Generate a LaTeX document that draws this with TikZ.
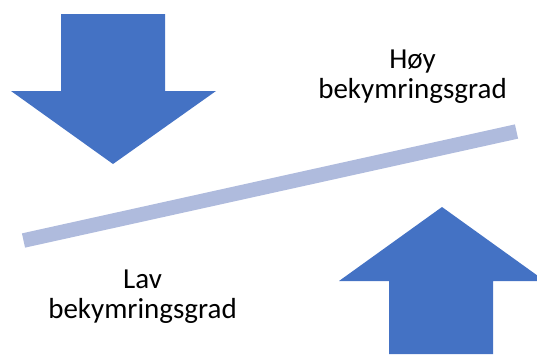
\documentclass[tikz,border=0pt]{standalone}
\usepackage{fontspec}
\setmainfont{Carlito}
\definecolor{arrowblue}{HTML}{4472C4}
\definecolor{barblue}{HTML}{AFBBDD}
\tikzset{
  bigarrow/.style={fill=arrowblue, draw=none},
  levelbar/.style={draw=barblue, line width=14.6pt},
  gradlabel/.style={align=center, anchor=base, inner sep=0pt,
    font=\fontsize{29}{29.5}\selectfont},
}

\begin{document}
\begin{tikzpicture}[x=1pt,y=-1pt]
    \useasboundingbox (0,0) rectangle (537,354);
    % pressure from above and below
    \fill[bigarrow] (61,14) -- (165,14) -- (165,91) -- (216,91) -- (113,164)
        -- (11,91) -- (61,91) -- cycle;
    \fill[bigarrow] (389,354) -- (389,281) -- (339,281) -- (442,207)
        -- (545,281) -- (493,281) -- (493,354) -- cycle;
    % the slanted scale
    \coordinate (B0) at (23.5,240.5);
    \coordinate (B1) at (516.5,131.5);
    \draw[levelbar] (B0) -- (B1);
    % base is the second line here
    \node[gradlabel] (HIGH) at (412.5,98) {Høy\\bekymringsgrad};
    \node[gradlabel] (LOW) at (142.5,318) {Lav\\bekymringsgrad};
\end{tikzpicture}
\end{document}
